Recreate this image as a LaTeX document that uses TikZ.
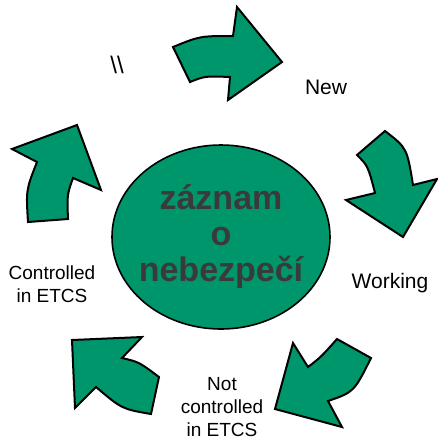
\documentclass[tikz,border=0pt]{standalone}
\usepackage{fontspec}
\setmainfont{Liberation Sans}
\usetikzlibrary{shapes.geometric}
\definecolor{cyclegreen}{RGB}{0,150,108}
\definecolor{recordgray}{RGB}{58,58,58}
\begin{document}
\begin{tikzpicture}[x=0.5pt, y=-0.5pt,
    cyclearrow/.style={fill=cyclegreen, draw=black, line width=1pt, line join=miter},
    lbl/.style={font=\fontsize{10.5}{12}\selectfont, align=center, inner sep=0pt},
    smalllbl/.style={lbl, font=\fontsize{9.5}{11.5}\selectfont}]

        \useasboundingbox (0,0) rectangle (438,436);

        \node[ellipse, fill=cyclegreen, draw=black, line width=0.8pt,
              minimum width=109pt, minimum height=92pt, inner sep=0pt] (record) at (221,237) {};
        \node[text=recordgray, align=center, inner sep=0pt,
              font=\bfseries\fontsize{17}{18}\selectfont] (recordtext) at (record.center)
              {záznam\\o\\nebezpečí};

        % top
        \draw[cyclearrow] (173,47) .. controls (200,36) .. (233,36) -- (237,7)
            -- (282,62) -- (228,100) -- (230,77) .. controls (205,76) .. (190,82) -- cycle;
        % right
        \draw[cyclearrow] (357,155) -- (385,131) .. controls (407,148) .. (413,185)
            -- (437,179) -- (403,237) -- (346,200) -- (375,193)
            .. controls (368,166) .. cycle;
        % bottom right
        \draw[cyclearrow] (337,339) -- (371,358) .. controls (354,392) .. (328,401)
            -- (342,427) -- (275,409) -- (293,343) -- (308,367)
            .. controls (321,357) .. cycle;
        % bottom left
        \draw[cyclearrow] (72,340) -- (142,337) -- (122,358) .. controls (139,362) .. (159,377)
            -- (151,414) .. controls (122,409) .. (96,387) -- (75,408) -- cycle;
        % left
        \draw[cyclearrow] (77,125) -- (101,190) -- (73,178) .. controls (67,195) .. (68,219)
            -- (28,222) .. controls (26,190) .. (37,162) -- (12,149) -- cycle;

        \node[lbl, font=\fontsize{12}{14}\selectfont] (slashes) at (117,65) {\textbackslash\textbackslash};
        \node[lbl] (new) at (326,87) {New};
        \node[lbl] (working) at (390,283) {Working};
        \node[smalllbl] (notctrl) at (222,407) {Not\\controlled\\in ETCS};
        \node[smalllbl] (ctrl) at (52,284) {Controlled\\in ETCS};

      \end{tikzpicture}
\end{document}
